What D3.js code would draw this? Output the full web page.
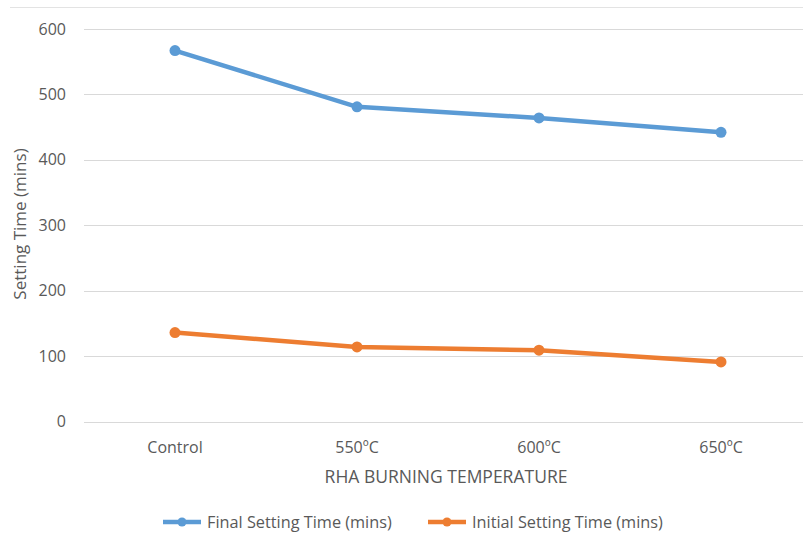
<!DOCTYPE html>
<html>
<head>
<meta charset="utf-8">
<script src="https://cdn.jsdelivr.net/npm/d3@7"></script>
<style>
  body { margin: 0; background: #fff; }
  svg text { fill: #595959; font-family: "Open Sans", sans-serif; }
</style>
</head>
<body>
<svg id="chart" width="803" height="541"></svg>
<script>
'use strict';

var categories = ['Control', '550ºC', '600ºC', '650ºC'];
var finalSetting = [567, 481, 464, 442];
var initialSetting = [136, 114, 109, 91];
var yTicks = [0, 100, 200, 300, 400, 500, 600];
var seriesNames = ['Final Setting Time (mins)', 'Initial Setting Time (mins)'];

var colors = ['#5b9bd5', '#ed7d31'];
var series = [finalSetting, initialSetting];

var margin = {top: 29, left: 84},
    width = 728,
    height = 392.5;

var svg = d3.select('#chart');

// top border
svg.append('line')
    .attr('x1', 10).attr('x2', 803)
    .attr('y1', 7.5).attr('y2', 7.5)
    .attr('stroke', '#e3e3e3');

var chart = svg.append('g')
    .attr('transform', 'translate(' + margin.left + ',' + margin.top + ')');

var x = d3.scaleBand()
    .range([0, width])
    .domain(categories);

var y = d3.scaleLinear()
    .range([height, 0])
    .domain([0, 600]);

// Grid lines
chart.append('g')
    .selectAll('line')
    .data(yTicks)
    .enter().append('line')
    .attr('x1', 0).attr('x2', width)
    .attr('y1', function(d) { return Math.round(y(d)) + 0.5; })
    .attr('y2', function(d) { return Math.round(y(d)) + 0.5; })
    .attr('stroke', '#d9d9d9');

// Y Axis Ticks
var yAxis = chart.append('g')
    .call(d3.axisLeft(y).tickValues(yTicks).tickSize(0).tickPadding(18));
yAxis.select('.domain').remove();
yAxis.selectAll('text')
    .style('font-family', '"Open Sans", sans-serif')
    .style('font-size', '16px')
    .style('fill', '#595959');

// X Axis Ticks
var xAxis = chart.append('g')
    .attr('transform', 'translate(0,' + height + ')')
    .call(d3.axisBottom(x).tickSize(0).tickPadding(0));
xAxis.select('.domain').remove();
xAxis.selectAll('text')
    .attr('dy', null)
    .attr('y', 31)
    .style('font-family', '"Open Sans", sans-serif')
    .style('font-size', '16px')
    .style('fill', '#595959');

// Axis titles
svg.append('text')
    .attr('transform', 'translate(26,224) rotate(-90)')
    .attr('text-anchor', 'middle')
    .style('font-size', '17px')
    .text('Setting Time (mins)');

svg.append('text')
    .attr('x', 446).attr('y', 483)
    .attr('text-anchor', 'middle')
    .style('font-size', '17.5px')
    .text('RHA BURNING TEMPERATURE');

// Lines
var line = d3.line()
    .x(function(d, i) { return x(categories[i]) + x.bandwidth() / 2; })
    .y(function(d) { return y(d); });

series.forEach(function(values, s) {
    chart.append('path')
        .datum(values)
        .attr('fill', 'none')
        .attr('stroke', colors[s])
        .attr('stroke-width', 4.5)
        .attr('stroke-linejoin', 'round')
        .attr('d', line);

    chart.selectAll('.dot' + s)
        .data(values)
        .enter().append('circle')
        .attr('class', 'dot' + s)
        .attr('cx', function(d, i) { return x(categories[i]) + x.bandwidth() / 2; })
        .attr('cy', function(d) { return y(d); })
        .attr('r', 5.5)
        .attr('fill', colors[s]);
});

// Legend
var legendX = [163, 428];
var legend = svg.append('g');
seriesNames.forEach(function(name, s) {
    var g = legend.append('g')
        .attr('transform', 'translate(' + legendX[s] + ',522)');
    g.append('line')
        .attr('x1', 0).attr('x2', 38)
        .attr('stroke', colors[s])
        .attr('stroke-width', 4.5);
    g.append('circle')
        .attr('cx', 19).attr('r', 4.5)
        .attr('fill', colors[s]);
    g.append('text')
        .attr('x', 44).attr('y', 6)
        .style('font-size', '16.3px')
        .text(name);
});
</script>
</body>
</html>
